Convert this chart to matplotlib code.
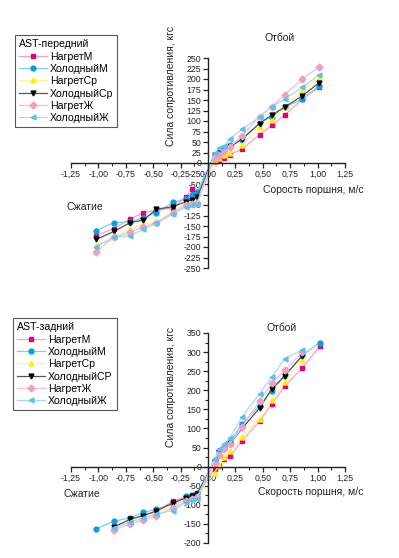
import numpy as np
import matplotlib
matplotlib.use('Agg')
import matplotlib.pyplot as plt
from matplotlib.ticker import MultipleLocator, FuncFormatter

plt.rcParams['font.family'] = ['Liberation Sans', 'DejaVu Sans']

nan = np.nan

# названия серий
series_names_front = ['НагретМ', 'ХолодныйМ', 'НагретСр', 'ХолодныйСр', 'НагретЖ', 'ХолодныйЖ']
series_names_rear = ['НагретМ', 'ХолодныйМ', 'НагретСр', 'ХолодныйСР', 'НагретЖ', 'ХолодныйЖ']

# скорость поршня, м/с
speed_front = [-1.02, -0.86, -0.71, -0.59, -0.47, -0.32, -0.20, -0.15, -0.10,
               0.06, 0.10, 0.15, 0.20, 0.31, 0.47, 0.58, 0.70, 0.86, 1.01]
speed_rear = [-1.02, -0.86, -0.71, -0.59, -0.47, -0.32, -0.20, -0.15, -0.10,
              0.06, 0.10, 0.15, 0.20, 0.31, 0.47, 0.58, 0.70, 0.86, 1.02]

# AST-передний, сила сопротивления, кгс
front_nagret_m = [-173, -156, -133, -118, -112, -107, -80, -63, -72, 3, 8, 13, 20, 33, 67, 90, 114, 152, 180]
front_holod_m = [-161, -142, -140, -130, -118, -94, -85, -75, -68, 20, 27, 32, 42, 55, 96, 110, 133, 152, 183]
front_nagret_sr = [-195, -177, -158, -145, -140, -116, -97, -92, -88, 5, 12, 18, 25, 43, 86, 102, 134, 174, 202]
front_holod_sr = [-182, -163, -142, -136, -110, -104, -92, -88, -82, 20, 25, 30, 38, 57, 94, 114, 133, 160, 190]
front_nagret_zh = [-211, -177, -165, -152, -142, -118, -100, -98, -95, 12, 18, 28, 38, 65, 110, 134, 163, 200, 229]
front_holod_zh = [-199, -177, -173, -158, -144, -121, -104, -100, -97, 23, 35, 40, 58, 80, 110, 134, 152, 180, 209]

# AST-задний, сила сопротивления, кгс
rear_nagret_m = [nan, -158, -140, -128, -118, -89, -80, -78, -75, -5, 1, 20, 27, 67, 119, 163, 211, 258, 316]
rear_holod_m = [-163, -143, -134, -120, -111, -98, -78, -74, -70, 18, 40, 50, 65, 111, 159, 199, 237, 292, 325]
rear_nagret_sr = [nan, -160, -140, -130, -122, -104, -88, -82, -78, -16, 5, 24, 40, 78, 126, 174, 222, 279, nan]
rear_holod_sr = [nan, -158, -138, -128, -116, -95, -82, -78, -71, 12, 38, 48, 60, 100, 153, 203, 238, 290, nan]
rear_nagret_zh = [nan, -165, -150, -141, -128, -108, -90, -85, -80, 10, 30, 45, 60, 103, 172, 218, 253, 299, nan]
rear_holod_zh = [nan, -160, -145, -135, -124, -115, -92, -88, -84, 20, 45, 60, 75, 130, 191, 235, 283, 306, nan]

front_data = [front_nagret_m, front_holod_m, front_nagret_sr, front_holod_sr, front_nagret_zh, front_holod_zh]
rear_data = [rear_nagret_m, rear_holod_m, rear_nagret_sr, rear_holod_sr, rear_nagret_zh, rear_holod_zh]

# стиль: (маркер, цвет маркера, цвет линии)
styles = [
    ('s', '#e4007f', '#f4a3c8'),
    ('o', '#00a0e9', '#7fcdf4'),
    ('^', '#fff000', '#fff48a'),
    ('v', '#000000', '#555555'),
    ('D', '#f19ec2', '#f5bcd6'),
    ('<', '#5bc2ee', '#a6daf5'),
]

W, H = 399, 558
fig = plt.figure(figsize=(W / 100, H / 100), dpi=100)


def comma_fmt(v, pos):
    return ('%.2f' % v).replace('.', ',')


def int_fmt(v, pos):
    return '%d' % round(v)


def setup_axes(ax, ylim, ymajor, yminor):
    ax.set_xlim(-1.25, 1.25)
    ax.set_ylim(*ylim)
    ax.spines['left'].set_position(('data', 0))
    ax.spines['bottom'].set_position(('data', 0))
    ax.spines['top'].set_visible(False)
    ax.spines['right'].set_visible(False)
    for s in ['left', 'bottom']:
        ax.spines[s].set_linewidth(1.0)
        ax.spines[s].set_color('#222222')
    ax.xaxis.set_major_locator(MultipleLocator(0.25))
    ax.xaxis.set_minor_locator(MultipleLocator(0.125))
    ax.xaxis.set_major_formatter(FuncFormatter(comma_fmt))
    ax.yaxis.set_major_locator(MultipleLocator(ymajor))
    ax.yaxis.set_minor_locator(MultipleLocator(yminor))
    ax.yaxis.set_major_formatter(FuncFormatter(int_fmt))
    ax.tick_params(which='major', length=3.5, width=0.9, labelsize=6.3, pad=1.5, colors='#222222')
    ax.tick_params(which='minor', length=2, width=0.8, colors='#222222')
    ax.patch.set_alpha(0)


def draw(ax, speed, data, names):
    for vals, name, (m, mc, lc) in zip(data, names, styles):
        ax.plot(speed, vals, color=lc, lw=0.9, marker=m, markersize=3.5,
                markerfacecolor=mc, markeredgecolor=mc, label=name, clip_on=False)


def add_legend(ax, title, x, y):
    h, l = ax.get_legend_handles_labels()
    leg = fig.legend(h, l, title=title, loc='upper left',
                     bbox_to_anchor=(x / W, 1 - y / H), bbox_transform=fig.transFigure,
                     fontsize=7.6, title_fontsize=7.6, fancybox=False, edgecolor='#555555',
                     framealpha=1, handlelength=2.6, handletextpad=0.3, labelspacing=0.22,
                     borderpad=0.4, borderaxespad=0, alignment='left')
    leg.get_frame().set_linewidth(0.8)


# верхний график
ax1 = fig.add_axes([71 / W, 1 - 268 / H, 274 / W, 210 / H])
setup_axes(ax1, (-250, 250), 25, 25)
draw(ax1, speed_front, front_data, series_names_front)
add_legend(ax1, 'AST-передний', 15, 35)

fig.text(280 / W, 1 - 38 / H, 'Отбой', fontsize=7.5, ha='center', va='center', color='#222222')
fig.text(85 / W, 1 - 207 / H, 'Сжатие', fontsize=7.5, ha='center', va='center', color='#222222')
fig.text(313 / W, 1 - 190 / H, 'Сорость поршня, м/с', fontsize=7.5, ha='center', va='center', color='#222222')
fig.text(171 / W, 1 - 86 / H, 'Сила сопротивления, кгс', fontsize=7.5, rotation=90,
         ha='center', va='center', color='#222222')

# нижний график
ax2 = fig.add_axes([71 / W, 1 - 543 / H, 274 / W, 210 / H])
setup_axes(ax2, (-200, 350), 50, 25)
draw(ax2, speed_rear, rear_data, series_names_rear)
add_legend(ax2, 'AST-задний', 13, 318)

fig.text(282 / W, 1 - 328 / H, 'Отбой', fontsize=7.5, ha='center', va='center', color='#222222')
fig.text(82 / W, 1 - 494 / H, 'Сжатие', fontsize=7.5, ha='center', va='center', color='#222222')
fig.text(311 / W, 1 - 492 / H, 'Скорость поршня, м/с', fontsize=7.5, ha='center', va='center', color='#222222')
fig.text(171 / W, 1 - 387 / H, 'Сила сопротивления, кгс', fontsize=7.5, rotation=90,
         ha='center', va='center', color='#222222')

fig.savefig('out.png', dpi=100)
